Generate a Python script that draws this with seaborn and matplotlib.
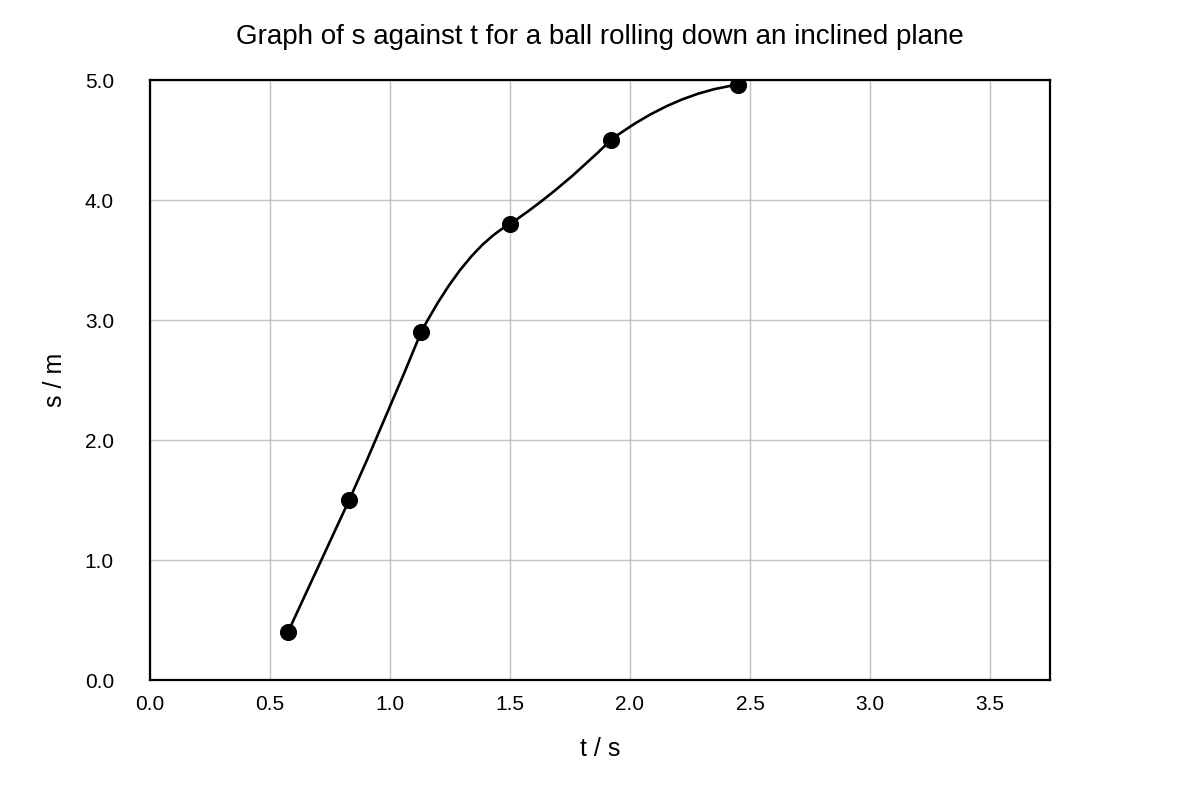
import numpy as np
import pandas as pd
import matplotlib
matplotlib.use("Agg")
import matplotlib.pyplot as plt
from matplotlib.path import Path
from matplotlib.patches import PathPatch
import seaborn as sns

# --- data ---
t_values = [0.575, 0.83, 1.13, 1.50, 1.92, 2.45]
s_values = [0.40, 1.50, 2.90, 3.80, 4.50, 4.96]
x_ticks = [0.0, 0.5, 1.0, 1.5, 2.0, 2.5, 3.0, 3.5]
y_ticks = [0.0, 1.0, 2.0, 3.0, 4.0, 5.0]

df = pd.DataFrame({'t': t_values, 's': s_values})

sns.set_theme(style="whitegrid")
plt.rcParams['font.family'] = ['Liberation Sans', 'DejaVu Sans']

fig = plt.figure(figsize=(12, 8), dpi=100)
ax = fig.add_axes([0.125, 0.15, 0.75, 0.75])

# --- smoothed line: chain of parabolic segments, each one starting with a
# slope between the previous segment's end slope and its own chord ---
W = 0.55
x = np.array(t_values)
y = np.array(s_values)
h = np.diff(x)
chord = np.diff(y) / h
verts = [(x[0], y[0])]
codes = [Path.MOVETO]
a = chord[0]
for i in range(len(x) - 1):
    b = 2 * chord[i] - a
    d = h[i] / 3
    verts += [(x[i] + d, y[i] + d * a),
              (x[i + 1] - d, y[i + 1] - d * b),
              (x[i + 1], y[i + 1])]
    codes += [Path.CURVE4] * 3
    if i + 1 < len(chord):
        a = W * b + (1 - W) * chord[i + 1]
ax.add_patch(PathPatch(Path(verts, codes), facecolor='none', edgecolor='black',
                       lw=1.9, zorder=3, capstyle='round', joinstyle='round'))

sns.scatterplot(data=df, x='t', y='s', ax=ax, color='black', s=130,
                edgecolor='black', zorder=4, legend=False)

ax.set_xlim(0, 3.75)
ax.set_ylim(0, 5.0)
ax.set_xticks(x_ticks)
ax.set_yticks(y_ticks)
ax.set_xticklabels([f"{v:.1f}" for v in x_ticks], fontsize=15)
ax.set_yticklabels([f"{v:.1f}" for v in y_ticks], fontsize=15)
ax.tick_params(axis='x', length=0, pad=10.5, colors='black')
ax.tick_params(axis='y', length=0, pad=26, colors='black')

ax.grid(True, color='#c0c0c0', lw=1.0)
for sp in ax.spines.values():
    sp.set_color('black')
    sp.set_linewidth(1.6)

ax.set_xlabel("t / s", fontsize=18, labelpad=17, color='black')
ax.set_ylabel("s / m", fontsize=18, labelpad=13, color='black')
ax.set_title("Graph of s against t for a ball rolling down an inclined plane",
             fontsize=20, pad=26, color='black')

fig.savefig("out.png", dpi=100, facecolor='white')
